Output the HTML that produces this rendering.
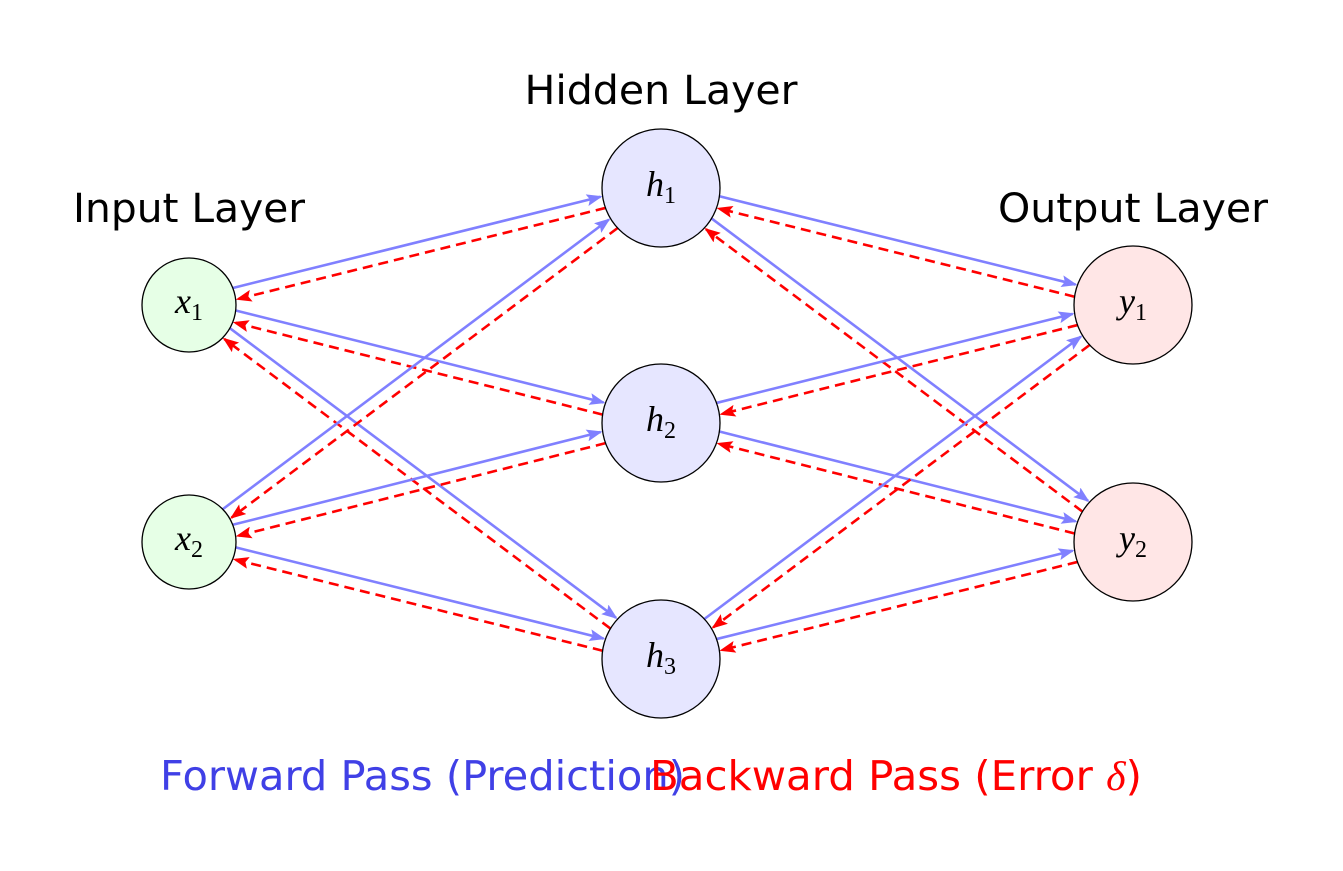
<!DOCTYPE html>
<html><head><meta charset="utf-8"><style>
body{margin:0;background:#fff}
svg{display:block}
.t{font-family:"DejaVu Sans","Liberation Sans",sans-serif;font-size:40px}
.l{font-family:"DejaVu Sans","Liberation Sans",sans-serif;font-size:41px}
.m{font-family:"Liberation Serif",serif;font-style:italic;font-size:36px}
.s{font-family:"Liberation Serif",serif;font-size:24px;font-style:normal}
</style></head><body>
<svg id="s" width="1343" height="871" viewBox="0 0 1343 871" xmlns="http://www.w3.org/2000/svg">
<defs>
<marker id="ab" markerWidth="16" markerHeight="12" refX="14" refY="6" orient="auto" markerUnits="userSpaceOnUse"><path d="M0,0 L16,6 L0,12 L3,6 Z" fill="#8080ff"/></marker>
<marker id="ar" markerWidth="16" markerHeight="12" refX="14" refY="6" orient="auto" markerUnits="userSpaceOnUse"><path d="M0,0 L16,6 L0,12 L3,6 Z" fill="#ff0000"/></marker>
</defs>
<g id="lines"></g>
<g stroke="#000" stroke-width="1.3">
<circle cx="189" cy="305" r="47" fill="#e6ffe6"/>
<circle cx="189" cy="542" r="47" fill="#e6ffe6"/>
<circle cx="661" cy="188" r="59" fill="#e6e6ff"/>
<circle cx="661" cy="423" r="59" fill="#e6e6ff"/>
<circle cx="661" cy="659" r="59" fill="#e6e6ff"/>
<circle cx="1133" cy="305" r="59" fill="#ffe6e6"/>
<circle cx="1133" cy="542" r="59" fill="#ffe6e6"/>
</g>
<g class="m" text-anchor="middle">
<text x="189" y="313">x<tspan class="s" dy="7">1</tspan></text>
<text x="189" y="550">x<tspan class="s" dy="7">2</tspan></text>
<text x="661" y="196">h<tspan class="s" dy="7">1</tspan></text>
<text x="661" y="431">h<tspan class="s" dy="7">2</tspan></text>
<text x="661" y="667">h<tspan class="s" dy="7">3</tspan></text>
<text x="1133" y="313">y<tspan class="s" dy="7">1</tspan></text>
<text x="1133" y="550">y<tspan class="s" dy="7">2</tspan></text>
</g>
<g class="t" text-anchor="middle">
<text x="661" y="104" textLength="273" lengthAdjust="spacingAndGlyphs">Hidden Layer</text>
<text x="189" y="222" textLength="232" lengthAdjust="spacingAndGlyphs">Input Layer</text>
<text x="1133" y="222" textLength="270" lengthAdjust="spacingAndGlyphs">Output Layer</text>
</g>
<text class="l" x="160" y="790" fill="#4040e6" textLength="525" lengthAdjust="spacingAndGlyphs">Forward Pass (Prediction)</text>
<text class="l" x="650" y="790" fill="#ff0000" textLength="492" lengthAdjust="spacingAndGlyphs">Backward Pass (Error <tspan font-family="Liberation Serif" font-style="italic">δ</tspan>)</text>
</svg>
<script>
var N={x1:[189,305,47],x2:[189,542,47],h1:[661,188,59],h2:[661,423,59],h3:[661,659,59],y1:[1133,305,59],y2:[1133,542,59]};
var E=[["x1","h1"],["x1","h2"],["x1","h3"],["x2","h1"],["x2","h2"],["x2","h3"],["h1","y1"],["h1","y2"],["h2","y1"],["h2","y2"],["h3","y1"],["h3","y2"]];
var g=document.getElementById("lines"),h="";
E.forEach(function(e){var a=N[e[0]],b=N[e[1]];var dx=b[0]-a[0],dy=b[1]-a[1],L=Math.hypot(dx,dy);dx/=L;dy/=L;var nx=-dy,ny=dx,o=6;
function pt(c,r,s,sg){var t=Math.sqrt(r*r-o*o);return [c[0]+sg*dx*t+s*nx*o,c[1]+sg*dy*t+s*ny*o];}
var p1=pt(a,a[2],-1,1),p2=pt(b,b[2]+2,-1,-1);
h+='<line x1="'+p1[0]+'" y1="'+p1[1]+'" x2="'+p2[0]+'" y2="'+p2[1]+'" stroke="#8080ff" stroke-width="2.6" marker-end="url(#ab)"/>';
var q1=pt(b,b[2],1,-1),q2=pt(a,a[2]+2,1,1);
h+='<line x1="'+q1[0]+'" y1="'+q1[1]+'" x2="'+q2[0]+'" y2="'+q2[1]+'" stroke="#ff0000" stroke-width="2.6" stroke-dasharray="10,6" marker-end="url(#ar)"/>';});
g.innerHTML=h;
</script>
</body></html>
